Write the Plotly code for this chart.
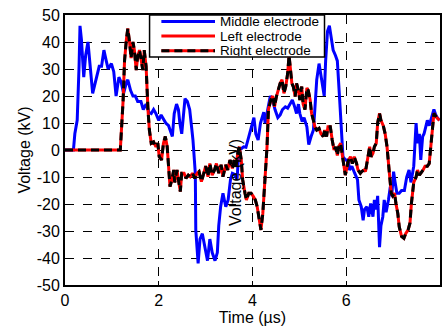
import plotly.graph_objects as go

# Middle electrode (blue)
mid_t = [0, 0.18, 0.21, 0.26, 0.30, 0.32, 0.35, 0.40, 0.44, 0.49, 0.59, 0.67, 0.73, 0.78, 0.83, 0.88, 0.92, 0.99, 1.04,
         1.09, 1.15, 1.20, 1.25, 1.31, 1.34, 1.40, 1.45, 1.50, 1.55, 1.62, 1.67, 1.73, 1.79, 1.84, 1.89, 1.94, 2.00,
         2.05, 2.10, 2.15, 2.21, 2.26, 2.29, 2.33, 2.38, 2.42, 2.45, 2.49, 2.52, 2.56, 2.61, 2.66, 2.70, 2.73, 2.78,
         2.79, 2.84, 2.88, 2.93, 2.99, 3.04, 3.09, 3.14, 3.20, 3.25, 3.28, 3.32, 3.37, 3.43, 3.48, 3.53, 3.57, 3.62,
         3.67, 3.71, 3.76, 3.81, 3.86, 3.92, 3.98, 4.03, 4.07, 4.12, 4.17, 4.20, 4.24, 4.27, 4.33, 4.38, 4.43, 4.48,
         4.54, 4.59, 4.64, 4.70, 4.75, 4.80, 4.85, 4.89, 4.94, 4.98, 5.01, 5.06, 5.10, 5.16, 5.20, 5.25, 5.30, 5.33,
         5.37, 5.42, 5.46, 5.49, 5.53, 5.56, 5.60, 5.64, 5.67, 5.72, 5.77, 5.81, 5.86, 5.90, 5.93, 5.98, 6.04, 6.07,
         6.12, 6.18, 6.24, 6.27, 6.32, 6.36, 6.39, 6.44, 6.48, 6.52, 6.57, 6.60, 6.64, 6.67, 6.71, 6.74, 6.78, 6.81,
         6.85, 6.90, 6.94, 6.97, 7.01, 7.04, 7.08, 7.13, 7.18, 7.24, 7.29, 7.34, 7.38, 7.44, 7.49, 7.52, 7.56, 7.59,
         7.63, 7.66, 7.70, 7.73, 7.77, 7.80, 7.84, 7.87, 7.91, 7.94, 7.99]
mid_kv = [0, 0, 6, 11, 31, 46, 41, 27, 35, 40, 21, 27, 31, 31, 37, 33, 30, 32, 29,
          20, 27, 25, 21, 25, 26, 22, 20, 20, 18, 18, 15, 17, 14, 13.5, 15, 13.5, 11,
          13, 11.5, 10, 9, 6, 5, 13.5, 17, 15, 10, 6, 11, 19, 18, 15, 8.6, 3.7, -8.6,
          -29.6, -42, -33, -31, -37, -41, -33, -38, -41, -38, -28, -21, -16, -21, -18.5, -11, -8.6, -9,
          -11, 0, 0.5, 1.2, 1, 5, 8.6, 12, 6, 3.7, 10, 12, 14, 10, 16, 20, 18.5, 15,
          12, 13, 15, 16, 15.5, 17, 18.5, 16.5, 13.5, 17, 13.5, 10.5, 12, 8.6, 2, 5, 7.4, 15,
          26, 32, 28, 23.5, 20, 33, 44, 46, 43, 37, 35, 33, 18.5, 6, -2.5, -3.7, -3.7, -7.4,
          -6, -8.6, -11, -18.5, -21, -26, -22, -21, -24.7, -19.8, -24.7, -18.5, -22, -17, -36, -28, -24.7, -18.5,
          -23, -18.5, -13.6, -17, -8, -11.7, -16, -16, -15, -15, -10, -7.4, -12, -6, 10, 2.5, 6, -3.7,
          5, 6, 8.6, 11, 9, 11, 13, 15, 13, 12, 11]

# Left electrode (red)
side_t = [0, 1.18, 1.24, 1.27, 1.31, 1.34, 1.38, 1.41, 1.45, 1.48, 1.52, 1.55, 1.59, 1.63, 1.66, 1.69, 1.73, 1.77,
          1.80, 1.84, 1.89, 1.94, 1.98, 2.01, 2.06, 2.10, 2.14, 2.18, 2.21, 2.24, 2.28, 2.32, 2.34, 2.39, 2.42, 2.46,
          2.49, 2.54, 2.58, 2.63, 2.67, 2.72, 2.77, 2.82, 2.86, 2.91, 2.95, 3.00, 3.05, 3.09, 3.14, 3.19, 3.23, 3.28,
          3.33, 3.37, 3.43, 3.47, 3.52, 3.57, 3.62, 3.65, 3.69, 3.72, 3.76, 3.79, 3.84, 3.87, 3.92, 3.97, 4.01, 4.06,
          4.10, 4.15, 4.18, 4.22, 4.26, 4.31, 4.34, 4.39, 4.43, 4.47, 4.51, 4.54, 4.59, 4.63, 4.67, 4.71, 4.75, 4.78,
          4.84, 4.87, 4.91, 4.94, 4.98, 5.01, 5.05, 5.08, 5.12, 5.16, 5.19, 5.23, 5.26, 5.30, 5.33, 5.37, 5.42, 5.46,
          5.51, 5.54, 5.58, 5.61, 5.66, 5.70, 5.74, 5.77, 5.81, 5.84, 5.88, 5.91, 5.95, 5.98, 6.02, 6.05, 6.09, 6.13,
          6.17, 6.22, 6.25, 6.30, 6.33, 6.38, 6.41, 6.45, 6.50, 6.53, 6.57, 6.60, 6.64, 6.67, 6.71, 6.74, 6.79, 6.83,
          6.87, 6.92, 6.96, 6.99, 7.03, 7.06, 7.10, 7.13, 7.18, 7.23, 7.27, 7.32, 7.36, 7.39, 7.44, 7.49, 7.52, 7.56,
          7.59, 7.64, 7.68, 7.73, 7.77, 7.80, 7.84, 7.87, 7.93, 7.99]
left_kv = [0, 0, 18.5, 33, 41, 45, 39.5, 34, 40, 37, 29.6, 34.6, 37, 33, 29.6, 37, 31, 15,
           7.4, 2.5, 3, 1.2, 2.5, -2.5, -3.7, 2.5, 5, 1.2, -6, -13.6, -11, -7.4, -12, -7.4, -11, -15.4,
           -8.6, -8.6, -10.5, -9.3, -9.9, -8.6, -10.5, -8.6, -8, -11.7, -9.3, -6, -9.9, -5, -9.3, -7.4, -5, -8.6,
           -5.5, -9.9, -5.5, -7.4, -3.7, -6.8, -3.7, -6, -0.6, 1.2, -3.7, -11, -16, -18.5, -16, -16, -17, -18.5,
           -21, -26, -29.6, -23.5, -13.6, 1.2, 15, 18.5, 20, 16, 19.8, 22, 24.7, 26, 21, 23.5, 28.4, 35,
           24.7, 23.5, 19.8, 24.7, 22, 18.5, 23.5, 17, 15, 23, 22, 18.5, 13.6, 11, 8.6, 7.4, 8, 6,
           5, 7.4, 5, 8.6, 8.6, 3.7, 0, 1.2, -2, 1.2, 2.5, -1.2, -6, -9.3, -6, -3.7, -2.5, -5,
           -2.5, -5, -7.4, -8.6, -8, -7.4, -8, -3.7, 1.2, -2.5, -1.2, 1.2, 2.5, 10, 13.6, 11, 9, 6,
           1.2, -8.6, -16, -17, -16, -19.8, -23.5, -28.4, -32, -32.7, -30.9, -29.6, -27, -19.8, -12, -10, -7.4, -9.3,
           -8.6, -7.4, -6, -6, -5, 1.2, 8.6, 13.6, 12, 11]

# Right electrode (black dashed) - coincides with left electrode
right_kv = list(left_kv)

x_ticks = [0, 2, 4, 6, 8]
y_ticks = [-50, -40, -30, -20, -10, 0, 10, 20, 30, 40, 50]

series_names = ["Middle electrode", "Left electrode", "Right electrode"]
series_colors = ["#0000FF", "#FF0000", "#000000"]
series_dash = ["solid", "solid", "8px,5px"]

FONT = "Liberation Sans, Arial, sans-serif"
LW = 3

fig = go.Figure()
fig.add_trace(go.Scatter(x=mid_t, y=mid_kv, mode="lines", name=series_names[0],
                         line=dict(color=series_colors[0], width=LW, dash=series_dash[0])))
fig.add_trace(go.Scatter(x=side_t, y=left_kv, mode="lines", name=series_names[1],
                         line=dict(color=series_colors[1], width=LW, dash=series_dash[1])))
fig.add_trace(go.Scatter(x=side_t, y=right_kv, mode="lines", name=series_names[2],
                         line=dict(color=series_colors[2], width=LW, dash=series_dash[2])))

axis_common = dict(
    showline=True, linecolor="black", linewidth=2, mirror=True,
    showgrid=True, gridcolor="black", gridwidth=1, griddash="dash",
    zeroline=False, ticks="inside", ticklen=4, tickcolor="black",
    tickfont=dict(family=FONT, size=16, color="black"),
)

# Compact legend box (MATLAB style) drawn as layout decoration
shapes = [dict(type="rect", xref="paper", yref="paper", x0=0.2255, x1=0.692, y0=0.844, y1=1.0,
               line=dict(color="black", width=1.5), fillcolor="white", layer="above")]
annotations = []
row_y = [0.976, 0.922, 0.868]
for name, col, dsh, yy in zip(series_names, series_colors, series_dash, row_y):
    if name == "Right electrode":
        shapes.append(dict(type="line", xref="paper", yref="paper", x0=0.257, x1=0.400, y0=yy, y1=yy,
                           line=dict(color="#FF0000", width=LW), layer="above"))
    shapes.append(dict(type="line", xref="paper", yref="paper", x0=0.257, x1=0.400, y0=yy, y1=yy,
                       line=dict(color=col, width=LW, dash=dsh), layer="above"))
    annotations.append(dict(x=0.410, y=yy, xref="paper", yref="paper", text=name, showarrow=False,
                            xanchor="left", yanchor="middle", height=11, borderpad=0,
                            font=dict(family=FONT, size=13.5, color="black")))

annotations.append(dict(x=3.65, y=-12.2, xref="x", yref="y", text="Voltage (kV)", textangle=-90,
                        showarrow=False, font=dict(family=FONT, size=16, color="black")))

fig.update_layout(
    width=444, height=329,
    margin=dict(l=65, r=2, t=15, b=44),
    paper_bgcolor="white", plot_bgcolor="white",
    font=dict(family=FONT, size=16, color="black"),
    showlegend=False,
    xaxis=dict(range=[0, 8], tickvals=x_ticks, ticktext=[str(v) for v in x_ticks],
               title=dict(text="Time (µs)", standoff=2, font=dict(size=16)), **axis_common),
    yaxis=dict(range=[-50, 50], tickvals=y_ticks, ticktext=[str(v) for v in y_ticks],
               title=dict(text="Voltage (kV)", standoff=2, font=dict(size=16)), **axis_common),
    shapes=shapes,
    annotations=annotations,
)

fig.write_html("out.html")
